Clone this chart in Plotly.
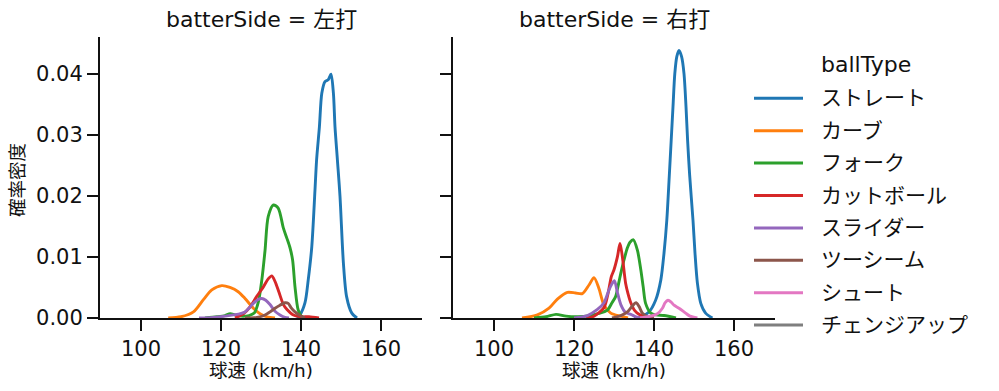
import plotly.graph_objects as go

# ---------------- data ----------------
BALL_TYPES = ["ストレート", "カーブ", "フォーク", "カットボール", "スライダー", "ツーシーム", "シュート", "チェンジアップ"]
COLORS = ["#1f77b4", "#ff7f0e", "#2ca02c", "#d62728", "#9467bd", "#8c564b", "#e377c2", "#7f7f7f"]
PANELS = ["左打", "右打"]
X_TICKS = [100, 120, 140, 160]
Y_TICKS = [0.0, 0.01, 0.02, 0.03, 0.04]
Y_TICK_TEXT = ["0.00", "0.01", "0.02", "0.03", "0.04"]

# --- batterSide = 左打 ---
L_STRAIGHT_X = [139.0, 139.75, 141.0, 141.8, 142.7, 143.5, 143.9, 144.6, 145.2, 146.0, 146.8, 147.5, 148.1, 148.5, 149.1, 149.75, 150.6, 151.4, 152.7, 154.0]
L_STRAIGHT_Y = [0.0, 0.0005, 0.0025, 0.0062, 0.0117, 0.0210, 0.0259, 0.0313, 0.0368, 0.0387, 0.0390, 0.0399, 0.0368, 0.0313, 0.0259, 0.0199, 0.0090, 0.0035, 0.0008, 0.0]

L_CURVE_X = [106.8, 110.0, 113.1, 115.6, 117.7, 120.2, 122.25, 124.3, 126.0, 128.1, 129.75, 131.5, 133.5]
L_CURVE_Y = [0.0, 0.0002, 0.0010, 0.0030, 0.0046, 0.0053, 0.0050, 0.0043, 0.0032, 0.0016, 0.0007, 0.0002, 0.0]

L_FORK_X = [116.0, 119.0, 121.0, 122.3, 123.5, 125.0, 127.0, 128.3, 129.3, 130.2, 131.0, 131.8, 133.1, 134.3, 135.6, 136.5, 137.25, 137.9, 138.5, 139.3, 140.2, 141.0]
L_FORK_Y = [0.0, 0.0002, 0.0004, 0.0007, 0.0005, 0.0003, 0.0004, 0.0008, 0.0025, 0.0062, 0.0110, 0.0166, 0.0185, 0.0180, 0.0147, 0.0130, 0.0115, 0.0095, 0.0051, 0.0013, 0.0002, 0.0]

L_CUT_X = [123.5, 125.6, 127.25, 128.9, 130.6, 131.8, 132.7, 133.5, 134.5, 135.6, 136.5, 138.1, 140.0, 142.0, 144.5]
L_CUT_Y = [0.0, 0.0007, 0.0018, 0.0035, 0.0051, 0.0064, 0.0069, 0.0060, 0.0042, 0.0022, 0.0014, 0.0005, 0.0002, 0.0002, 0.0]

L_SLIDER_X = [114.5, 118.0, 121.0, 123.1, 126.0, 128.1, 129.2, 130.2, 131.2, 132.25, 133.5, 134.75, 136.0, 137.0]
L_SLIDER_Y = [0.0, 0.0001, 0.0003, 0.0005, 0.0010, 0.0024, 0.0030, 0.0032, 0.0029, 0.0022, 0.0011, 0.0005, 0.0001, 0.0]

L_TWOSEAM_X = [126.0, 129.0, 131.0, 132.25, 133.5, 134.75, 136.0, 136.8, 137.5, 138.5, 139.75, 141.0]
L_TWOSEAM_Y = [0.0, 0.0001, 0.0005, 0.0010, 0.0016, 0.0021, 0.0025, 0.0024, 0.0017, 0.0010, 0.0004, 0.0]

# --- batterSide = 右打 ---
R_STRAIGHT_X = [135.0, 136.7, 138.75, 140.4, 141.7, 142.5, 143.2, 143.8, 144.3, 144.75, 145.2, 145.7, 146.25, 146.9, 147.5, 148.0, 148.4, 148.9, 149.75, 150.25, 150.85, 151.7, 152.9, 154.6]
R_STRAIGHT_Y = [0.0, 0.0002, 0.0010, 0.0029, 0.0062, 0.0106, 0.0160, 0.0230, 0.0291, 0.0346, 0.0400, 0.0428, 0.0438, 0.0428, 0.0400, 0.0346, 0.0291, 0.0235, 0.0160, 0.0106, 0.0057, 0.0024, 0.0008, 0.0]

R_CURVE_X = [107.0, 110.85, 113.75, 115.85, 118.35, 120.4, 122.1, 123.75, 125.0, 126.25, 127.5, 129.2, 131.7, 133.5]
R_CURVE_Y = [0.0, 0.0005, 0.0016, 0.0031, 0.0042, 0.0041, 0.0040, 0.0054, 0.0066, 0.0048, 0.0021, 0.0008, 0.0003, 0.0]

R_FORK_X = [110.0, 113.0, 115.5, 118.0, 121.0, 124.0, 126.0, 128.35, 129.5, 130.4, 131.2, 131.7, 132.5, 133.35, 134.0, 134.85, 135.85, 136.7, 137.3, 137.9, 139.2, 140.5, 142.5, 145.5]
R_FORK_Y = [0.0, 0.0002, 0.0006, 0.0003, 0.0002, 0.0004, 0.0007, 0.0013, 0.0025, 0.0035, 0.0058, 0.0073, 0.0095, 0.0115, 0.0124, 0.0128, 0.0111, 0.0079, 0.0051, 0.0024, 0.0008, 0.0005, 0.0004, 0.0]

R_CUT_X = [123.0, 125.0, 127.5, 128.5, 129.35, 130.0, 130.85, 131.5, 132.1, 132.9, 133.5, 134.2, 135.2, 136.25, 138.0, 140.0]
R_CUT_Y = [0.0, 0.0003, 0.0017, 0.0040, 0.0068, 0.0079, 0.0100, 0.0122, 0.0100, 0.0057, 0.0040, 0.0025, 0.0012, 0.0006, 0.0001, 0.0]

R_SLIDER_X = [120.0, 123.35, 125.85, 127.5, 128.75, 129.5, 130.1, 130.85, 131.7, 132.9, 134.2, 135.5, 137.0]
R_SLIDER_Y = [0.0, 0.0004, 0.0014, 0.0025, 0.0046, 0.0056, 0.0061, 0.0042, 0.0022, 0.0009, 0.0006, 0.0002, 0.0]

R_TWOSEAM_X = [129.5, 131.7, 133.35, 134.5, 135.5, 136.25, 137.1, 138.5, 140.0]
R_TWOSEAM_Y = [0.0, 0.0004, 0.0010, 0.0019, 0.0025, 0.0019, 0.0008, 0.0002, 0.0]

R_SHOOT_X = [136.5, 138.5, 140.85, 142.1, 142.8, 143.5, 144.3, 145.0, 146.25, 147.9, 149.0, 150.85]
R_SHOOT_Y = [0.0, 0.0002, 0.0007, 0.0016, 0.0025, 0.0029, 0.0026, 0.0021, 0.0016, 0.0008, 0.0003, 0.0]

SERIES = [
    (0, "ストレート", L_STRAIGHT_X, L_STRAIGHT_Y),
    (0, "カーブ", L_CURVE_X, L_CURVE_Y),
    (0, "フォーク", L_FORK_X, L_FORK_Y),
    (0, "カットボール", L_CUT_X, L_CUT_Y),
    (0, "スライダー", L_SLIDER_X, L_SLIDER_Y),
    (0, "ツーシーム", L_TWOSEAM_X, L_TWOSEAM_Y),
    (1, "ストレート", R_STRAIGHT_X, R_STRAIGHT_Y),
    (1, "カーブ", R_CURVE_X, R_CURVE_Y),
    (1, "フォーク", R_FORK_X, R_FORK_Y),
    (1, "カットボール", R_CUT_X, R_CUT_Y),
    (1, "スライダー", R_SLIDER_X, R_SLIDER_Y),
    (1, "ツーシーム", R_TWOSEAM_X, R_TWOSEAM_Y),
    (1, "シュート", R_SHOOT_X, R_SHOOT_Y),
]

# ---------------- figure ----------------
W, H = 999, 391
FONT = "DejaVu Sans, Noto Sans CJK JP, sans-serif"
INK = "#111111"


def fx(px):
    return px / W


def fy(py):
    return 1 - py / H


fig = go.Figure()
color_of = dict(zip(BALL_TYPES, COLORS))
order = {b: i for i, b in enumerate(BALL_TYPES)}
for panel, bt, xs, ys in sorted(SERIES, key=lambda s: (s[0], order[s[1]])):
    fig.add_trace(go.Scatter(
        x=xs, y=ys, mode="lines", name=bt,
        line=dict(color=color_of[bt], width=2.9, shape="spline", smoothing=0.8),
        xaxis="x" if panel == 0 else "x2",
        yaxis="y" if panel == 0 else "y2",
        showlegend=False, hoverinfo="skip",
    ))

X_RANGE = [89.75, 170.25]
Y_RANGE = [0.0, 0.046]
ydom = [fy(318), fy(37)]

common_x = dict(
    range=X_RANGE, tickmode="array", tickvals=X_TICKS, ticktext=[str(t) for t in X_TICKS],
    ticks="outside", ticklen=11, tickwidth=2, tickcolor=INK,
    showline=True, linewidth=2, linecolor=INK, showgrid=False, zeroline=False,
    tickfont=dict(family=FONT, size=21, color=INK), fixedrange=True,
)
common_y = dict(
    range=Y_RANGE, tickmode="array", tickvals=Y_TICKS, ticktext=Y_TICK_TEXT,
    ticks="outside", ticklen=11, tickwidth=2, tickcolor=INK,
    showline=True, linewidth=2, linecolor=INK, showgrid=False, zeroline=False,
    tickfont=dict(family=FONT, size=21, color=INK), domain=ydom, fixedrange=True,
)

fig.update_layout(
    width=W, height=H,
    margin=dict(l=0, r=0, t=0, b=0, autoexpand=False),
    paper_bgcolor="white", plot_bgcolor="white",
    font=dict(family=FONT, color=INK),
    showlegend=False,
    xaxis=dict(common_x, domain=[fx(100), fx(422)], anchor="y"),
    xaxis2=dict(common_x, domain=[fx(453), fx(775)], anchor="y2"),
    yaxis=dict(common_y, anchor="x"),
    yaxis2=dict(common_y, anchor="x2", showticklabels=False),
)

annotations = []
shapes = []
for cx, side in zip([261, 614], PANELS):
    annotations.append(dict(
        text=f"batterSide = {side}", x=fx(cx), y=fy(20), xref="paper", yref="paper",
        xanchor="center", yanchor="middle", showarrow=False,
        font=dict(family=FONT, size=22, color=INK)))
for cx in [261, 614]:
    annotations.append(dict(
        text="球速 (km/h)", x=fx(cx), y=fy(370), xref="paper", yref="paper",
        xanchor="center", yanchor="middle", showarrow=False,
        font=dict(family=FONT, size=18.5, color=INK)))
annotations.append(dict(
    text="確率密度", x=fx(18), y=fy(180), xref="paper", yref="paper",
    xanchor="center", yanchor="middle", showarrow=False, textangle=-90,
    font=dict(family=FONT, size=18.5, color=INK)))

# legend drawn by hand to match the reference layout
annotations.append(dict(
    text="ballType", x=fx(866), y=fy(65), xref="paper", yref="paper",
    xanchor="center", yanchor="middle", showarrow=False,
    font=dict(family=FONT, size=22, color=INK)))
for i, (bt, col) in enumerate(zip(BALL_TYPES, COLORS)):
    ry = 98.3 + i * 32.4
    shapes.append(dict(type="line", xref="paper", yref="paper",
                       x0=fx(754), x1=fx(803), y0=fy(ry), y1=fy(ry),
                       line=dict(color=col, width=3)))
    annotations.append(dict(
        text=bt, x=fx(819), y=fy(ry), xref="paper", yref="paper",
        xanchor="left", yanchor="middle", showarrow=False,
        font=dict(family=FONT, size=21, color=INK)))

fig.update_layout(annotations=annotations, shapes=shapes)
fig.write_html(
    "out.html",
    config={"displayModeBar": False},
    post_script="document.body.style.margin='0';document.body.style.overflow='hidden';document.documentElement.style.overflow='hidden';",
)
